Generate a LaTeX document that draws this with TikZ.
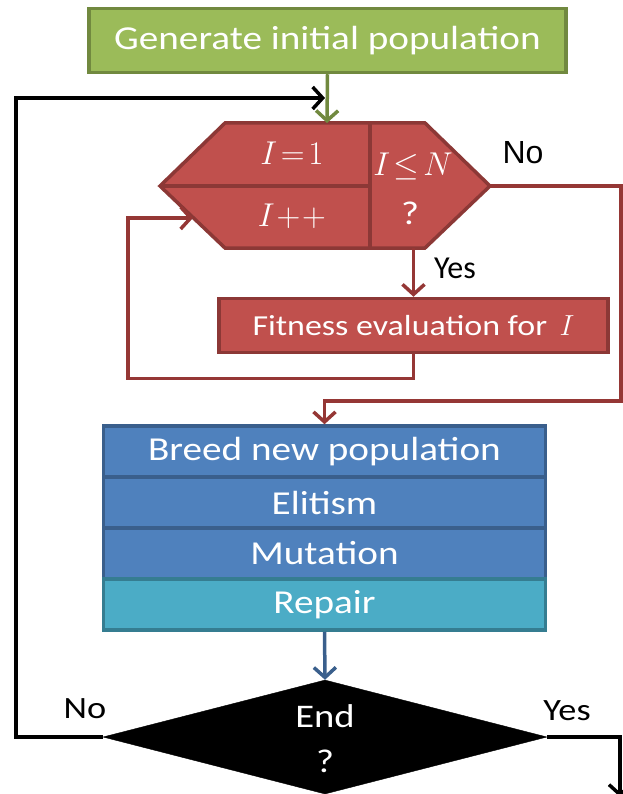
\documentclass[tikz,border=0pt]{standalone}
\usepackage{fix-cm}
\usepackage{fontspec}
\setmainfont{Carlito}[FakeStretch=1.17]
\newfontfamily\labelfont{Liberation Sans}
\newfontfamily\plainfont{Carlito}
\usetikzlibrary{arrows.meta,shapes.geometric}
\definecolor{grfill}{HTML}{9BBB59}
\definecolor{grline}{HTML}{71893F}
\definecolor{rdfill}{HTML}{C0504D}
\definecolor{rdline}{HTML}{8C3836}
\definecolor{rdconn}{HTML}{953735}
\definecolor{blfill}{HTML}{4F81BD}
\definecolor{blline}{HTML}{3A5F8C}
\definecolor{tlfill}{HTML}{4BACC6}
\definecolor{tlline}{HTML}{357D91}
\begin{document}
\begin{tikzpicture}[x=1pt,y=-1pt,
  box/.style={draw, line width=3.5pt, text=white, inner sep=0pt},
  bigtext/.style={font=\fontsize{33.5}{38}\selectfont},
  conn/.style={line width=3.5pt, line join=miter,
    -{Straight Barb[length=10pt,width=22pt,line width=3.5pt]}},
  whitetext/.style={text=white, inner sep=0pt, font=\fontsize{33}{38}\selectfont},
  lbl/.style={inner sep=0pt, font=\labelfont\fontsize{32}{36}\selectfont},
  lbly/.style={inner sep=0pt, font=\plainfont\fontsize{32}{36}\selectfont},
  lblc/.style={inner sep=0pt, font=\fontsize{31}{36}\selectfont},
]
\useasboundingbox (0,0) rectangle (622,794);

% start box
\node[box, bigtext, fill=grfill, draw=grline, minimum width=477pt, minimum height=64pt]
  (gen) at (327.5,40.5) {Generate initial population};

% loop over individuals: hexagon split into three fields
\draw[rdline, fill=rdfill, line width=3.5pt, line join=miter]
  (225,123) -- (425,123) -- (490,186) -- (425,248) -- (225,248) -- (160,186) -- cycle;
\draw[rdline, line width=3.5pt] (370,123) -- (370,248);
\draw[rdline, line width=3.5pt] (160,186) -- (370,186);
\coordinate (hexT) at (327,123);
\coordinate (hexR) at (490,186);
\coordinate (hexB) at (413.5,248);
\coordinate (hexIn) at (193,218);
\node[whitetext] (tinit) at (292,153) {$I\!=\!1$};
\node[whitetext] (tinc) at (292,216) {$I\!+\!+$};
\node[whitetext] (tcond) at (413,166) {$I\!\leq\! N$};
\node[whitetext] (tq) at (410,213) {?};

% fitness evaluation
\node[box, fill=rdfill, draw=rdline, minimum width=389pt, minimum height=54pt,
  font=\fontsize{29}{34}\selectfont] (fit) at (413.5,325.5) {Fitness evaluation for \,$I$};

% generation operators
\node[box, bigtext, fill=blfill, draw=blline, minimum width=442pt, minimum height=51pt]
  (breed) at (324.5,451.5) {Breed new population};
\node[box, bigtext, fill=blfill, draw=blline, minimum width=442pt, minimum height=51pt]
  (elit) at (324.5,502.5) {Elitism};
\node[box, bigtext, fill=blfill, draw=blline, minimum width=442pt, minimum height=51pt]
  (mut) at (324.5,553.5) {Mutation};
\node[box, bigtext, fill=tlfill, draw=tlline, minimum width=442pt, minimum height=51pt]
  (rep) at (324.5,604.5) {Repair};

% termination test
\node[diamond, draw=black, fill=black, aspect=3.9, inner sep=0pt,
  minimum width=444pt, minimum height=114pt] (endd) at (325,737) {};
\node[whitetext] (tend) at (325,716) {End};
\node[whitetext] (tend2) at (325,761) {?};

% connectors
\draw[conn, grline] (gen.south) -- (hexT);
\draw[conn, black] (endd.west) -| (16,98) -- (325,98);
\draw[conn, rdconn] (hexR) -- (621,186) |- (324.5,401) -- (breed.north);
\draw[conn, rdconn] (hexB) -- (fit.north);
\draw[conn, rdconn] (fit.south) -- ++(0,24) -| (128,218) -- (hexIn);
\draw[conn, blline] (rep.south) -- (endd.north);
\draw[conn, black] (endd.east) -- (620,737) -- (620,797);

% branch labels
\node[lbl] (lno1) at (523,153) {No};
\node[lbly] (lyes1) at (455,268) {Yes};
\node[lblc] (lno2) at (85,709) {No};
\node[lblc] (lyes2) at (567,711) {Yes};
\end{tikzpicture}
\end{document}
